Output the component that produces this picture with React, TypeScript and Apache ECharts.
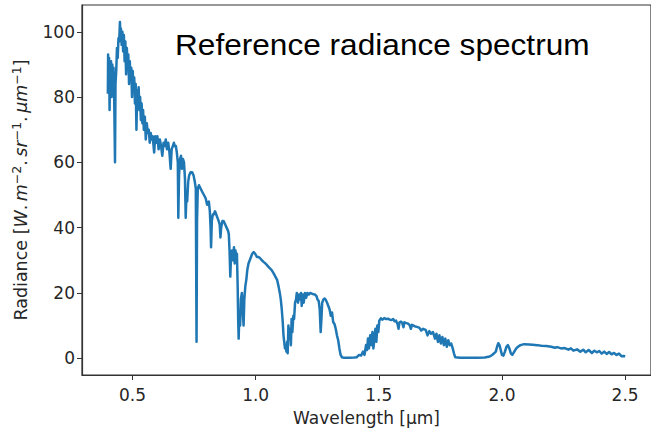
import React, { useEffect, useRef } from "react";
import * as echarts from "echarts";

// Wavelength samples [µm]
const wavelength: number[] = [
  0.400, 0.401, 0.403, 0.405, 0.407, 0.409, 0.411, 0.413, 0.415, 0.418, 0.420, 0.423, 0.426, 0.429, 0.431, 0.434,
  0.437, 0.440, 0.443, 0.446, 0.449, 0.451, 0.453, 0.456, 0.459, 0.462, 0.465, 0.468, 0.471, 0.474, 0.477, 0.480,
  0.483, 0.486, 0.489, 0.492, 0.495, 0.498, 0.501, 0.504, 0.507, 0.510, 0.513, 0.516, 0.519, 0.522, 0.525, 0.528,
  0.531, 0.534, 0.537, 0.540, 0.543, 0.546, 0.550, 0.554, 0.558, 0.562, 0.566, 0.570, 0.574, 0.578, 0.582, 0.588,
  0.592, 0.597, 0.601, 0.606, 0.611, 0.616, 0.621, 0.626, 0.631, 0.635, 0.640, 0.645, 0.650, 0.655, 0.659, 0.664,
  0.668, 0.672, 0.676, 0.680, 0.684, 0.686, 0.689, 0.693, 0.697, 0.701, 0.705, 0.709, 0.713, 0.716, 0.719, 0.722,
  0.726, 0.730, 0.736, 0.742, 0.748, 0.753, 0.757, 0.760, 0.762, 0.765, 0.770, 0.776, 0.783, 0.790, 0.797, 0.803,
  0.810, 0.814, 0.817, 0.819, 0.822, 0.826, 0.830, 0.835, 0.840, 0.845, 0.850, 0.854, 0.857, 0.860, 0.865, 0.870,
  0.876, 0.882, 0.888, 0.891, 0.894, 0.897, 0.900, 0.904, 0.908, 0.912, 0.915, 0.918, 0.921, 0.924, 0.927, 0.929,
  0.931, 0.934, 0.937, 0.940, 0.944, 0.948, 0.951, 0.954, 0.958, 0.962, 0.966, 0.971, 0.976, 0.981, 0.986, 0.992,
  0.998, 1.005, 1.012, 1.020, 1.025, 1.032, 1.040, 1.046, 1.052, 1.058, 1.065, 1.073, 1.080, 1.087, 1.093, 1.098,
  1.102, 1.106, 1.110, 1.113, 1.116, 1.119, 1.122, 1.125, 1.128, 1.130, 1.133, 1.136, 1.140, 1.143, 1.146, 1.149,
  1.153, 1.156, 1.160, 1.164, 1.167, 1.172, 1.176, 1.180, 1.184, 1.187, 1.191, 1.195, 1.200, 1.205, 1.210, 1.216,
  1.222, 1.228, 1.235, 1.241, 1.247, 1.251, 1.256, 1.260, 1.264, 1.267, 1.270, 1.275, 1.280, 1.285, 1.290, 1.295,
  1.300, 1.305, 1.310, 1.315, 1.320, 1.325, 1.330, 1.335, 1.340, 1.345, 1.350, 1.360, 1.380, 1.400, 1.410, 1.420,
  1.428, 1.436, 1.442, 1.448, 1.452, 1.456, 1.460, 1.465, 1.470, 1.474, 1.478, 1.482, 1.486, 1.490, 1.494, 1.498,
  1.502, 1.508, 1.515, 1.522, 1.530, 1.537, 1.545, 1.552, 1.558, 1.564, 1.570, 1.576, 1.580, 1.584, 1.590, 1.595,
  1.600, 1.604, 1.610, 1.618, 1.625, 1.630, 1.635, 1.645, 1.655, 1.665, 1.672, 1.680, 1.690, 1.698, 1.705, 1.712,
  1.720, 1.728, 1.734, 1.740, 1.746, 1.752, 1.758, 1.764, 1.770, 1.776, 1.782, 1.788, 1.794, 1.800, 1.805, 1.810,
  1.830, 1.860, 1.900, 1.930, 1.950, 1.960, 1.968, 1.975, 1.980, 1.985, 1.990, 1.995, 2.000, 2.006, 2.012, 2.018,
  2.024, 2.030, 2.036, 2.042, 2.050, 2.058, 2.065, 2.075, 2.090, 2.110, 2.125, 2.143, 2.160, 2.180, 2.200, 2.215,
  2.224, 2.240, 2.255, 2.270, 2.280, 2.290, 2.305, 2.318, 2.330, 2.340, 2.352, 2.365, 2.375, 2.385, 2.395, 2.405,
  2.415, 2.425, 2.435, 2.445, 2.455, 2.465, 2.475, 2.485, 2.494, 2.500,
];

// Radiance [W.m-2.sr-1.µm-1]
const radiance: number[] = [
  81, 93, 82, 92, 76, 90, 85, 91, 80, 90, 84, 89, 78, 60, 84, 88,
  95, 92, 98, 97, 103, 99, 101, 96, 100, 94, 99, 91, 97, 87, 95, 90,
  93, 84, 91, 85, 89, 80, 88, 83, 86, 78, 84, 70, 82, 77, 83, 76,
  80, 73, 78, 72, 76, 70, 74, 67, 72, 69, 70, 66, 69, 67, 68, 63,
  68, 66, 68, 64, 67, 65, 62, 66, 65, 67, 64, 66, 63, 58, 64, 65,
  66, 65, 65, 63, 60, 43, 56, 61, 62, 58, 61, 60, 55, 43, 50, 48,
  54, 56, 57, 57, 56, 54, 52, 5, 42, 52, 53, 52, 51, 50, 49, 47,
  48, 45, 40, 34, 42, 44, 44, 45, 44, 43, 42, 41, 37, 40, 42, 42,
  41, 40, 39, 38, 33, 25, 31, 33, 30, 34, 29, 33, 31, 32, 22, 12,
  6, 14, 10, 18, 20, 14, 10, 18, 22, 24, 27, 29, 30, 31, 32, 32.5,
  32, 31, 31, 30.5, 30, 29.5, 29, 28.5, 28, 27.5, 27, 26, 25, 24, 22, 20,
  18, 15, 11, 7, 5, 3, 4, 2, 5, 1.5, 10, 6, 9, 4, 12, 8,
  13, 12, 17, 18, 20, 17, 19.5, 18, 20, 16, 19.5, 17, 20, 18.5, 20, 19.5,
  20, 19.8, 19.6, 19.5, 19, 18, 17.5, 15, 8, 12, 17, 18, 18.3, 17.8, 17, 16,
  15, 13, 14, 11, 10.5, 9, 7, 5.5, 3, 1, 0.3, 0.1, 0.1, 0.2, 0.3, 1,
  0.8, 2, 1, 4, 2.5, 6, 3, 7, 4, 8, 3, 6, 9, 5, 10, 8,
  11.5, 12.2, 11.8, 12.3, 12, 12.1, 11.8, 11.7, 12, 11.3, 11.5, 10.5, 9, 11, 11.2, 10.8,
  9.5, 11, 10.8, 10.6, 10.2, 9, 10.2, 9.8, 9.6, 9.3, 8.5, 9, 8.7, 7, 8.3, 7.5,
  8, 6, 7.5, 5, 7, 4.5, 6.5, 4, 6, 3.5, 5.5, 4, 4.5, 3, 1.5, 0.3,
  0.1, 0.1, 0.1, 0.2, 0.5, 1, 1.5, 2, 3.5, 4.6, 4, 2.5, 1, 0.8, 2, 3.5,
  4, 3, 1.5, 1, 2, 3, 3.5, 4, 4.3, 4.2, 4.1, 4, 3.8, 3.7, 3.5, 3.2,
  3.4, 3, 3.1, 2.6, 3, 2.3, 2.7, 2, 2.6, 1.8, 2.5, 1.6, 2.3, 1.8, 2.2, 1.4,
  2, 1.3, 1.9, 1.2, 1.6, 1, 1.4, 0.6, 0.7, 0.5,
];

const xTicks: number[] = [0.5, 1.0, 1.5, 2.0, 2.5];
const yTicks: number[] = [0, 20, 40, 60, 80, 100];

const titleText = "Reference radiance spectrum";
const xName = "Wavelength [µm]";

export default function App() {
  const ref = useRef<HTMLDivElement>(null);
  useEffect(() => {
    if (!ref.current) return;
    const chart = echarts.init(ref.current, null, { renderer: "svg" });
    const data = wavelength.map((w, i) => [w, radiance[i]]);
    const tickFont = { fontFamily: "DejaVu Sans", fontSize: 17, color: "#262626" };
    const base = { fontFamily: "DejaVu Sans", fontSize: 17.5, color: "#262626", lineHeight: 20, verticalAlign: "bottom" };
    chart.setOption({
      animation: false,
      backgroundColor: "#ffffff",
      grid: {
        left: 82,
        top: 5,
        width: 572,
        height: 371,
        show: true,
        borderColor: "#333333",
        borderWidth: 1.2,
        backgroundColor: "transparent",
      },
      xAxis: {
        type: "value",
        min: 0.295,
        max: 2.605,
        name: xName,
        nameLocation: "middle",
        nameGap: 34,
        nameTextStyle: { fontFamily: "DejaVu Sans", fontSize: 17, color: "#262626" },
        axisLine: { show: true, onZero: false, lineStyle: { color: "#333333", width: 1.2 } },
        axisTick: { show: true, length: 5, lineStyle: { color: "#333333" }, customValues: xTicks },
        axisLabel: {
          ...tickFont,
          margin: 11,
          customValues: xTicks,
          formatter: (v: number) => v.toFixed(1),
        },
        splitLine: { show: false },
      },
      yAxis: {
        type: "value",
        min: -5.15,
        max: 108.2,
        name:
          "{n|Radiance [}{i|W}{n|.\u2009}{i|m}{s|−2}{n|.\u2009}{i|sr}{s|−1}{n|.\u2009}{i|μm}{s|−1}{n|]}",
        nameLocation: "middle",
        nameRotate: 90,
        nameGap: 52,
        nameTextStyle: {
          rich: {
            n: { ...base },
            i: { ...base, fontStyle: "italic" },
            s: { fontFamily: "DejaVu Sans", fontSize: 12.5, color: "#262626", lineHeight: 12, verticalAlign: "top" },
          },
        },
        axisLine: { show: true, onZero: false, lineStyle: { color: "#333333", width: 1.2 } },
        axisTick: { show: true, length: 5, lineStyle: { color: "#333333" }, customValues: yTicks },
        axisLabel: { ...tickFont, margin: 7, customValues: yTicks },
        splitLine: { show: false },
      },
      graphic: [
        {
          type: "text",
          x: 175,
          y: 30,
          scaleX: 1.09,
          style: {
            text: titleText,
            fontFamily: "Liberation Sans, Arial",
            fontSize: 29,
            fill: "#000000",
          },
        },
      ],
      series: [
        {
          type: "line",
          data,
          showSymbol: false,
          symbol: "none",
          lineStyle: { color: "#1f77b4", width: 2.5, join: "round" },
          itemStyle: { color: "#1f77b4" },
        },
      ],
    });
    return () => chart.dispose();
  }, []);
  return (
    <div
      ref={ref}
      style={{ position: "absolute", left: 0, top: 0, width: 651, height: 431, background: "#fff" }}
    />
  );
}
